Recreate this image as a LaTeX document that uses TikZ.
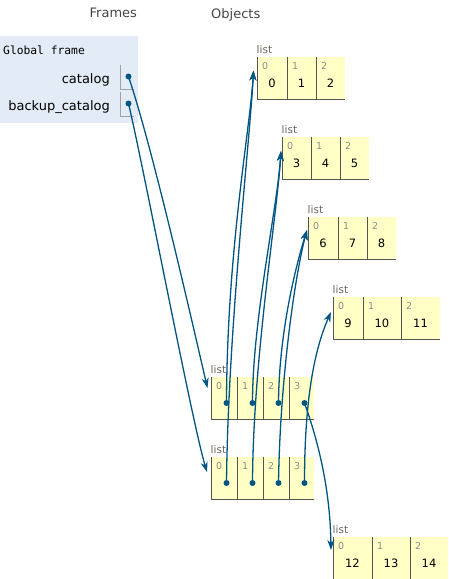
\documentclass[tikz,border=0pt]{standalone}
\usepackage{fontspec}
\setmainfont{DejaVu Sans}
\newfontfamily\monof{DejaVu Sans Mono}
\usetikzlibrary{arrows.meta}
\definecolor{ptrc}{HTML}{005583}
\definecolor{framebg}{HTML}{E2EBF6}
\definecolor{cellfill}{HTML}{FFFFC6}
\definecolor{cellline}{HTML}{555555}
\definecolor{idxc}{HTML}{8C8C8C}
\definecolor{typec}{HTML}{6E665E}
\definecolor{headc}{HTML}{444444}
\definecolor{varbox}{HTML}{A0A0A0}
\newcommand{\pcell}[6]{%
  \fill[cellfill] (#2,#4) rectangle (#3,#4+42);
  \draw[cellln] (#2,#4) -- (#2,#4+42) -- (#3,#4+42);
  \node[idx] (#1i) at (#2+5,#4+12.5) {#5};
  \node[val] (#1v) at ({(#2+#3)/2},#4+30.5) {#6};
}
\begin{document}
\begin{tikzpicture}[x=1pt,y=-1pt,
  cellln/.style={draw=cellline,line width=1pt},
  idx/.style={anchor=base west,inner sep=0pt,text=idxc,font=\fontsize{9.5}{11}\selectfont},
  val/.style={anchor=base,inner sep=0pt,text=black,font=\fontsize{11.5}{13}\selectfont},
  typelbl/.style={anchor=base west,inner sep=0pt,text=typec,font=\fontsize{10.5}{12}\selectfont},
  head/.style={anchor=base west,inner sep=0pt,text=headc,font=\fontsize{13}{15}\selectfont},
  varname/.style={anchor=base east,inner sep=0pt,text=black,font=\fontsize{13}{15}\selectfont},
  ptr/.style={draw=ptrc,line width=1.3pt,-{Stealth[length=10pt,width=7pt,inset=3pt]}},
  dotc/.style={fill=ptrc}]
\useasboundingbox (0,0) rectangle (448,579);
\begin{scope}
\clip (0,0) rectangle (448,579);
% headers
\node[head] (hframes) at (89.5,17.5) {Frames};
\node[head] (hobjects) at (211,18) {Objects};
% global frame
\fill[framebg] (0,36) rectangle (137.5,123);
\node[anchor=base west,inner sep=0pt,font=\monof\fontsize{11.3}{13}\selectfont] (gf) at (3,54.5) {Global frame};
\node[varname] (vcat) at (110,83) {catalog};
\node[varname] (vbak) at (110,110) {backup\_catalog};
\draw[varbox,line width=1pt] (120.5,65) -- (120.5,89) -- (133.5,89);
\draw[varbox,line width=1pt] (120.5,92) -- (120.5,116) -- (133.5,116);
\coordinate (cat) at (128.5,76.5);
\coordinate (bak) at (128.5,103.5);
% list 0
\node[typelbl] (t0) at (256.5,53.5) {list};
\pcell{l0c0}{257}{287}{57}{0}{0}
\pcell{l0c1}{287}{316}{57}{1}{1}
\pcell{l0c2}{316}{345}{57}{2}{2}
% list 1
\node[typelbl] (t1) at (281.5,133.5) {list};
\pcell{l1c0}{282}{311}{137}{0}{3}
\pcell{l1c1}{311}{340}{137}{1}{4}
\pcell{l1c2}{340}{369}{137}{2}{5}
% list 2
\node[typelbl] (t2) at (307.5,213.5) {list};
\pcell{l2c0}{308}{338}{217}{0}{6}
\pcell{l2c1}{338}{367}{217}{1}{7}
\pcell{l2c2}{367}{396}{217}{2}{8}
% list 3
\node[typelbl] (t3) at (332.5,293.5) {list};
\pcell{l3c0}{333}{363}{297}{0}{9}
\pcell{l3c1}{363}{401}{297}{1}{10}
\pcell{l3c2}{401}{440}{297}{2}{11}
% list 4
\node[typelbl] (t4) at (332.5,533.5) {list};
\pcell{l4c0}{333}{372}{537}{0}{12}
\pcell{l4c1}{372}{410}{537}{1}{13}
\pcell{l4c2}{410}{448}{537}{2}{14}
% outer list A (catalog)
\node[typelbl] (tA) at (210.5,373.5) {list};
\pcell{Ac0}{211}{237}{377}{0}{}
\pcell{Ac1}{237}{263}{377}{1}{}
\pcell{Ac2}{263}{289}{377}{2}{}
\pcell{Ac3}{289}{314}{377}{3}{}
% outer list B (backup_catalog)
\node[typelbl] (tB) at (210.5,453.5) {list};
\pcell{Bc0}{211}{237}{457}{0}{}
\pcell{Bc1}{237}{263}{457}{1}{}
\pcell{Bc2}{263}{289}{457}{2}{}
\pcell{Bc3}{289}{314}{457}{3}{}
% pointer sources
\coordinate (A0) at (226.5,403);
\coordinate (A1) at (252.5,403);
\coordinate (A2) at (278.5,403);
\coordinate (A3) at (304.5,403);
\coordinate (B0) at (226.5,483);
\coordinate (B1) at (252.5,483);
\coordinate (B2) at (278.5,483);
\coordinate (B3) at (304.5,483);
% pointer targets
\coordinate (L0in) at (253.5,70.5);
\coordinate (L1in) at (281,151);
\coordinate (L2in) at (307,230);
\coordinate (L3in) at (331,312);
\coordinate (L4in) at (331,550);
\coordinate (Ain) at (207.5,388);
\coordinate (Bin) at (207,472);
% connectors
\draw[ptr] (cat) .. controls (154,152) and (198,348) .. (Ain);
\draw[ptr] (bak) .. controls (144,169) and (192,422) .. (Bin);
\draw[ptr] (A0) .. controls (227,250) and (250,130) .. (L0in);
\draw[ptr] (B0) .. controls (228,330) and (250,140) .. (L0in);
\draw[ptr] (A1) .. controls (252.5,320) and (277,210) .. (L1in);
\draw[ptr] (B1) .. controls (253,360) and (277,215) .. (L1in);
\draw[ptr] (A2) .. controls (279,330) and (297,262) .. (L2in);
\draw[ptr] (B2) .. controls (280,380) and (295,275) .. (L2in);
\draw[ptr] (B3) .. controls (304.5,410) and (312,355) .. (L3in);
\draw[ptr] (A3) .. controls (314,430) and (330,480) .. (L4in);
% dots
\foreach \p in {cat,bak,A0,A1,A2,A3,B0,B1,B2,B3}
  \fill[dotc] (\p) circle (3pt);
\end{scope}
\end{tikzpicture}
\end{document}
